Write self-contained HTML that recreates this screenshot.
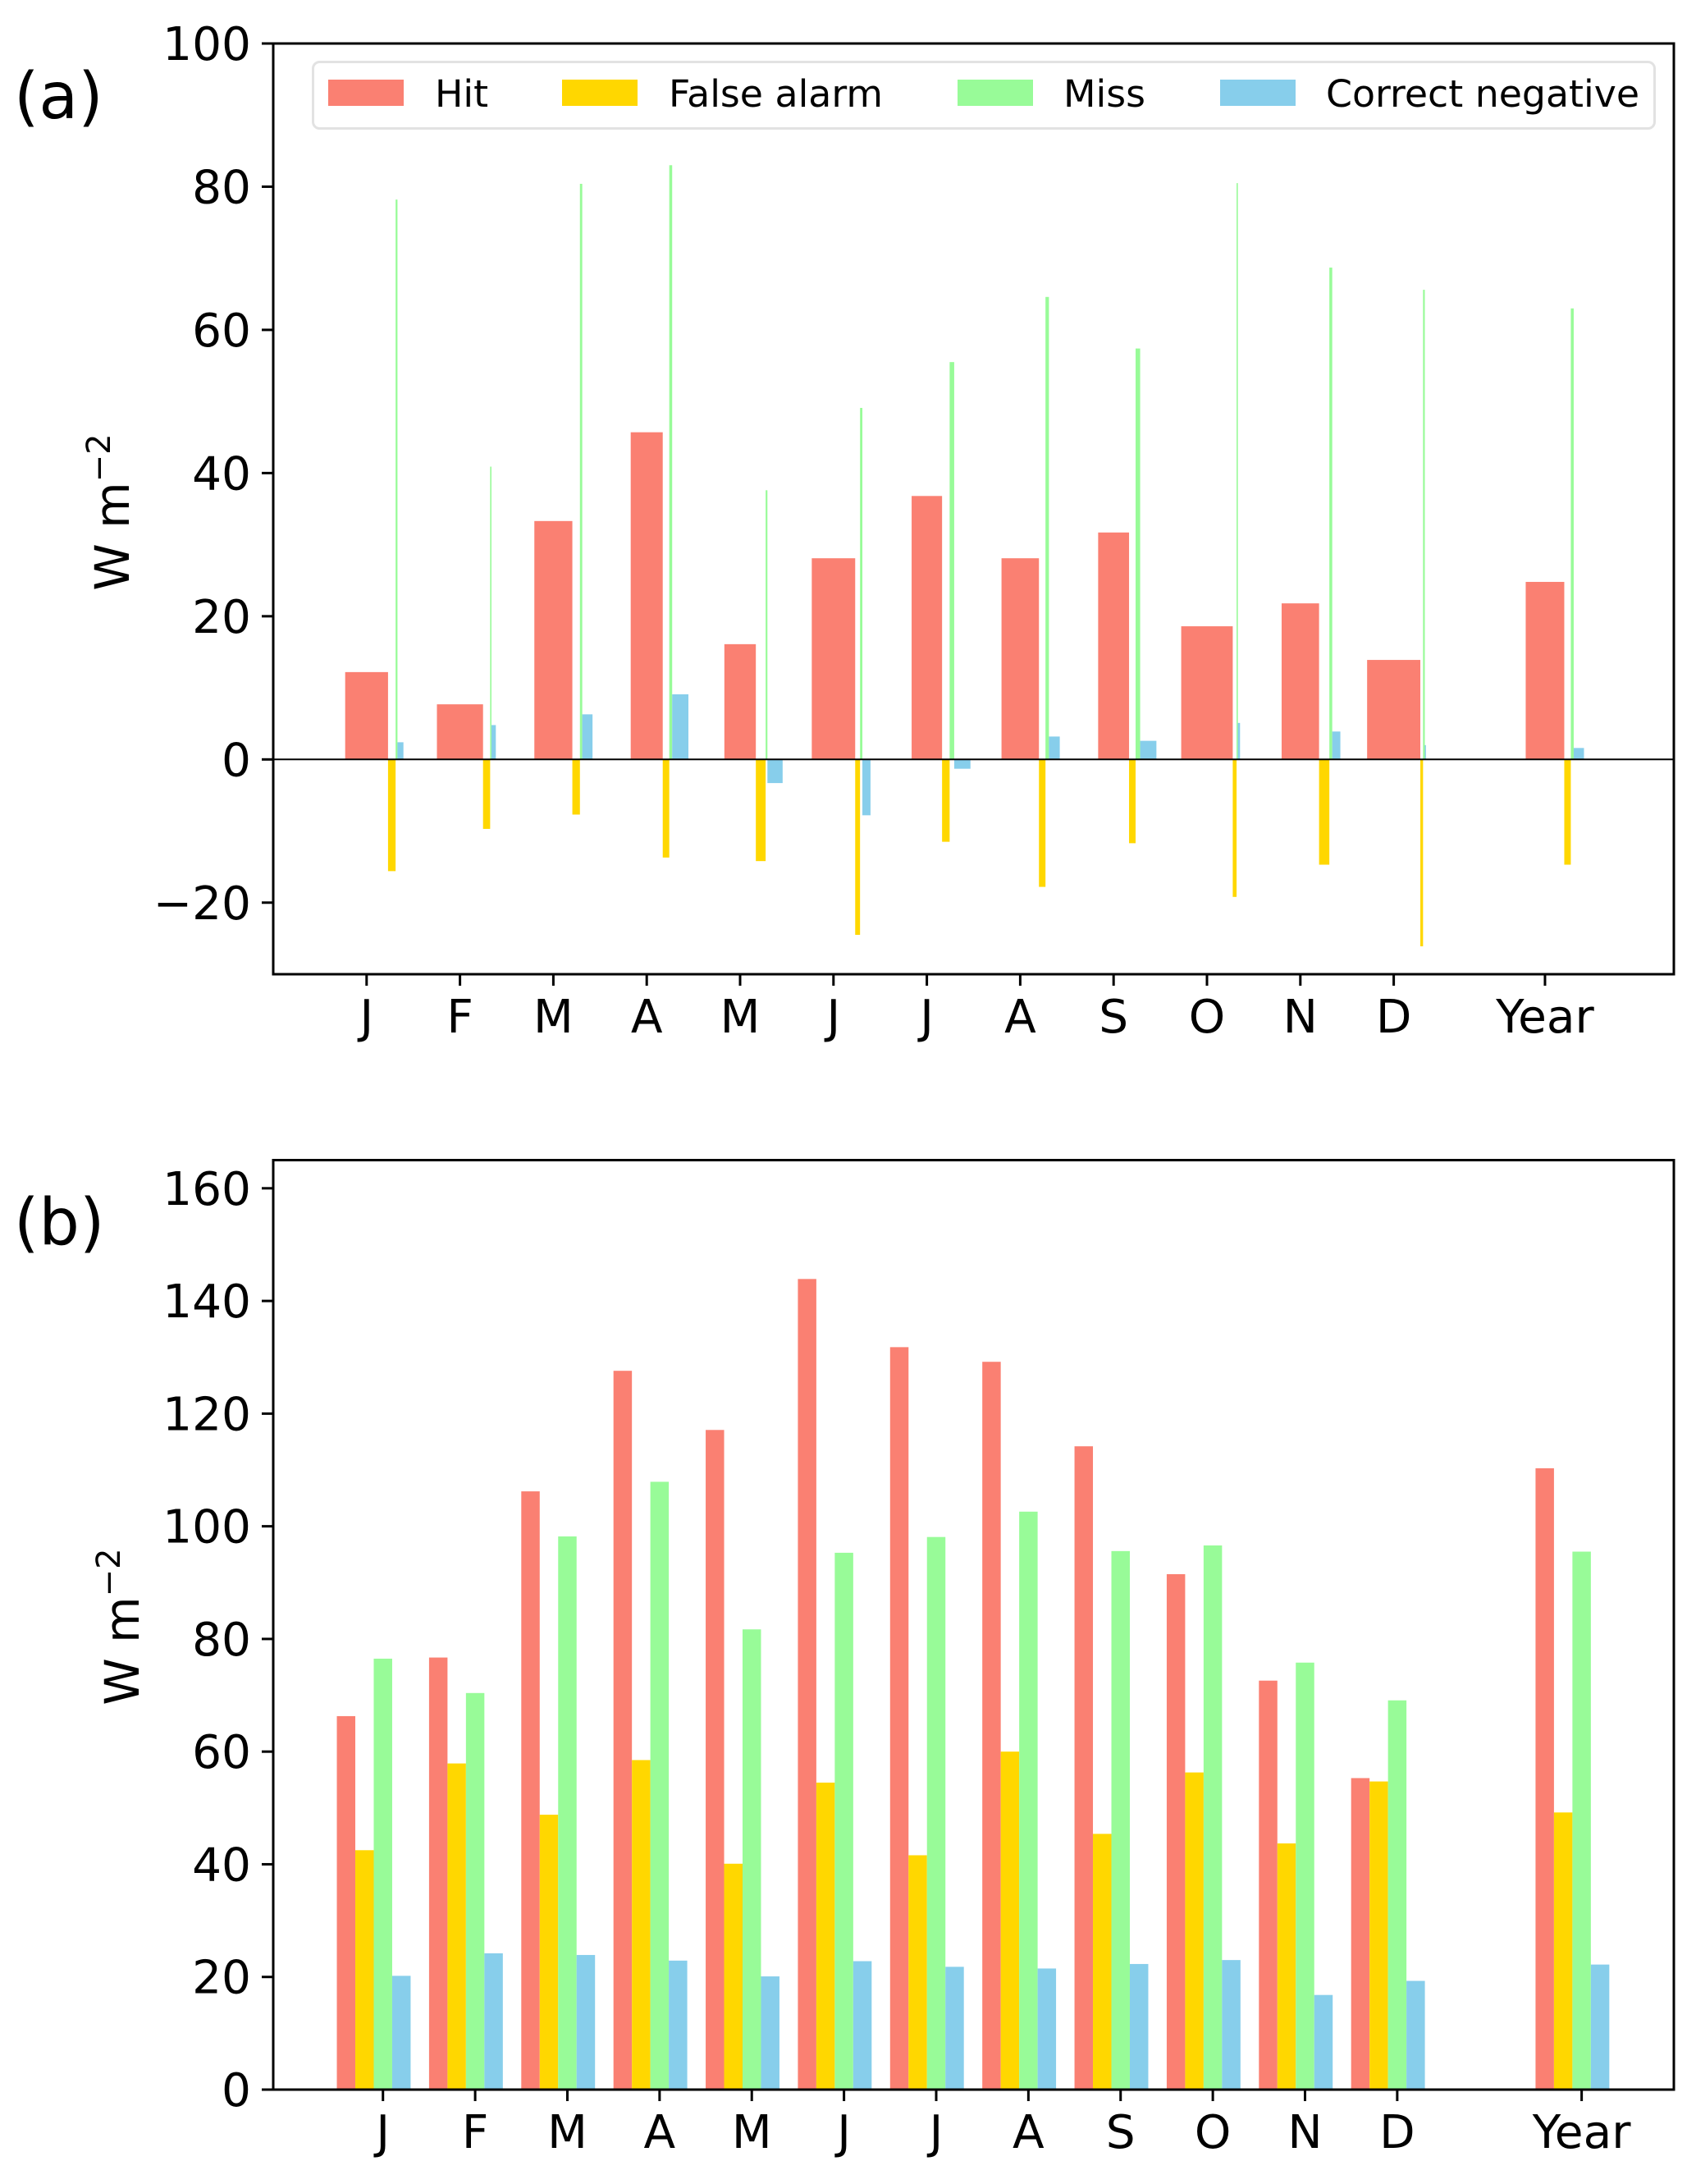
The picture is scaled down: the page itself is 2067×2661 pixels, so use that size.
<!DOCTYPE html>
<html lang="en">
<head>
<meta charset="utf-8">
<title>Monthly bar charts</title>
<style>
html,body{margin:0;padding:0;background:#fff;}
svg{display:block;}
text{font-family:"DejaVu Sans","Liberation Sans",sans-serif;fill:#000;}
</style>
</head>
<body>
<svg id="chart" xmlns="http://www.w3.org/2000/svg" width="2067" height="2661" viewBox="0 0 2067 2661">
  <rect x="0" y="0" width="2067" height="2661" fill="#ffffff"/>
  <g id="panelA"></g>
  <g id="panelB"></g>

  <text x="17" y="144" font-size="78">(a)</text>
  <text x="17" y="1516" font-size="78">(b)</text>

  <text transform="translate(157,624) rotate(-90)" text-anchor="middle" font-size="58">W m<tspan font-size="40" dy="-23">−2</tspan></text>
  <text transform="translate(169,1982) rotate(-90)" text-anchor="middle" font-size="58">W m<tspan font-size="40" dy="-23">−2</tspan></text>

  <g>
    <rect x="381.5" y="75.5" width="1635" height="81" rx="8" ry="8" fill="#ffffff" fill-opacity="0.8" stroke="#e2e2e2" stroke-width="3"/>
    <rect x="400" y="97" width="92" height="32" fill="#FA8072"/>
    <text x="530" y="130" font-size="45.8">Hit</text>
    <rect x="685" y="97" width="92" height="32" fill="#FFD700"/>
    <text x="815" y="130" font-size="45.8">False alarm</text>
    <rect x="1167" y="97" width="92" height="32" fill="#98FB98"/>
    <text x="1296" y="130" font-size="45.8">Miss</text>
    <rect x="1487" y="97" width="92" height="32" fill="#87CEEB"/>
    <text x="1616" y="130" font-size="45.8">Correct negative</text>
  </g>
</svg>
<script>
// Shared categories
const monthLabels = ["J","F","M","A","M","J","J","A","S","O","N","D","Year"];

// Panel (a): values (W m-2)
const hitA  = [12.2,7.7,33.3,45.7,16.1,28.1,36.8,28.1,31.7,18.6,21.8,13.9,24.8];
const falseA = [-15.6,-9.7,-7.7,-13.7,-14.2,-24.5,-11.5,-17.8,-11.7,-19.2,-14.7,-26.1,-14.7];
const missA = [78.2,40.9,80.4,83.0,37.6,49.1,55.5,64.6,57.4,80.5,68.7,65.6,63.0];
const corrA = [2.4,4.8,6.3,9.1,-3.3,-7.8,-1.3,3.2,2.6,5.1,3.9,2.0,1.6];
// Panel (a): bar widths encode event frequency (x-axis units)
const hitFreqA  = [.459,.494,.407,.343,.337,.465,.326,.401,.331,.552,.401,.570,.413];
const falseFreqA = [.081,.076,.081,.070,.105,.052,.081,.070,.070,.041,.110,.029,.070];
const missFreqA = [.020,.014,.025,.031,.019,.025,.049,.037,.049,.014,.031,.019,.031];
const corrFreqA = [.064,.047,.110,.174,.163,.087,.174,.116,.174,.023,.087,.012,.110];
const categoryXA = [0,1,2,3,4,5,6,7,8,9,10,11,12.62];
const yTicksA = [-20,0,20,40,60,80,100];

// Panel (b): values (W m-2)
const hitB  = [66.3,76.7,106.2,127.6,117.1,143.9,131.8,129.2,114.2,91.5,72.6,55.3,110.3];
const falseB = [42.5,57.9,48.8,58.5,40.1,54.5,41.6,60.0,45.4,56.3,43.7,54.7,49.2];
const missB = [76.5,70.4,98.2,107.9,81.7,95.3,98.1,102.6,95.6,96.6,75.8,69.1,95.5];
const corrB = [20.2,24.2,23.9,22.9,20.1,22.8,21.8,21.5,22.3,23.0,16.8,19.3,22.2];
const categoryXB = [0,1,2,3,4,5,6,7,8,9,10,11,13];
const yTicksB = [0,20,40,60,80,100,120,140,160];

const SVGNS = "http://www.w3.org/2000/svg";
const COLORS = {hit:"#FA8072", falseAlarm:"#FFD700", miss:"#98FB98", corr:"#87CEEB"};

// Axis functions
const boxA = {l:333, r:2040, t:53, b:1187};
const boxB = {l:333, r:2040, t:1413.5, b:2546};
const xA = v => boxA.l + (v + 1) * (boxA.r - boxA.l) / 15;
const yA = v => boxA.b - (v + 30) * (boxA.b - boxA.t) / 130;
const xB = v => boxB.l + (v + 1.19) * (boxB.r - boxB.l) / 15.19;
const yB = v => boxB.b - v * (boxB.b - boxB.t) / 165;

function addBar(parent, name, left, right, y0, y1, fill) {
  const r = document.createElementNS(SVGNS, "rect");
  
  
  r.setAttribute("x", left);
  r.setAttribute("width", right - left);
  r.setAttribute("y", Math.min(y0, y1));
  r.setAttribute("height", Math.abs(y1 - y0));
  r.setAttribute("fill", fill);
  parent.appendChild(r);
}
function addLine(parent, name, x1, y1, x2, y2, w) {
  const l = document.createElementNS(SVGNS, "line");
  
  
  l.setAttribute("x1", x1);
  l.setAttribute("y1", y1);
  l.setAttribute("x2", x2);
  l.setAttribute("y2", y2);
  l.setAttribute("stroke", "#000");
  l.setAttribute("stroke-width", w);
  parent.appendChild(l);
}
function addLabel(parent, name, x, y, anchor, str) {
  const t = document.createElementNS(SVGNS, "text");
  
  
  t.setAttribute("x", x);
  t.setAttribute("y", y);
  t.setAttribute("text-anchor", anchor);
  t.setAttribute("font-size", "56.5");
  t.textContent = str;
  parent.appendChild(t);
}
function drawAxes(g, box, xf, yf, catX, yTicks, prefix, labelBaseline) {
  catX.forEach((c, i) => {
    addLine(g, prefix + "-x-tick", xf(c), box.b, xf(c), box.b + 14, 3);
    addLabel(g, prefix + "-x-tick-label", xf(c), labelBaseline, "middle", monthLabels[i]);
  });
  yTicks.forEach(v => {
    addLine(g, prefix + "-y-tick", box.l - 14, yf(v), box.l, yf(v), 3);
    addLabel(g, prefix + "-y-tick-label", 306, yf(v) + 20, "end", String(v).replace("-", "\u2212"));
  });
  addLine(g, prefix + "-spine-left", box.l, box.t - 1.5, box.l, box.b + 1.5, 3);
  addLine(g, prefix + "-spine-right", box.r, box.t - 1.5, box.r, box.b + 1.5, 3);
  addLine(g, prefix + "-spine-top", box.l, box.t, box.r, box.t, 3);
  addLine(g, prefix + "-spine-bottom", box.l, box.b, box.r, box.b, 3);
}

// Panel (a): variable-width bars stacked side by side from the category centre
const gA = document.getElementById("panelA");
monthLabels.forEach((m, i) => {
  const c = categoryXA[i];
  const a0 = c - hitFreqA[i] / 2;
  const a1 = a0 + hitFreqA[i];
  const a2 = a1 + falseFreqA[i];
  const a3 = a2 + missFreqA[i];
  const a4 = a3 + corrFreqA[i];
  addBar(gA, "panel-a-bar-hit", xA(a0), xA(a1), yA(0), yA(hitA[i]), COLORS.hit);
  addBar(gA, "panel-a-bar-false-alarm", xA(a1), xA(a2), yA(0), yA(falseA[i]), COLORS.falseAlarm);
  addBar(gA, "panel-a-bar-miss", xA(a2), xA(a3), yA(0), yA(missA[i]), COLORS.miss);
  addBar(gA, "panel-a-bar-correct-negative", xA(a3), xA(a4), yA(0), yA(corrA[i]), COLORS.corr);
});
addLine(gA, "panel-a-zero-line", boxA.l, yA(0), boxA.r, yA(0), 2);
drawAxes(gA, boxA, xA, yA, categoryXA, yTicksA, "panel-a", 1258);

// Panel (b): grouped bars of constant width
const gB = document.getElementById("panelB");
const barW = 0.2;
monthLabels.forEach((m, i) => {
  const c = categoryXB[i];
  const left = k => xB(c + (k - 0.5) * barW);
  const right = k => xB(c + (k + 0.5) * barW);
  addBar(gB, "panel-b-bar-hit", left(-2), right(-2), yB(0), yB(hitB[i]), COLORS.hit);
  addBar(gB, "panel-b-bar-false-alarm", left(-1), right(-1), yB(0), yB(falseB[i]), COLORS.falseAlarm);
  addBar(gB, "panel-b-bar-miss", left(0), right(0), yB(0), yB(missB[i]), COLORS.miss);
  addBar(gB, "panel-b-bar-correct-negative", left(1), right(1), yB(0), yB(corrB[i]), COLORS.corr);
});
drawAxes(gB, boxB, xB, yB, categoryXB, yTicksB, "panel-b", 2617);
</script>
</body>
</html>
